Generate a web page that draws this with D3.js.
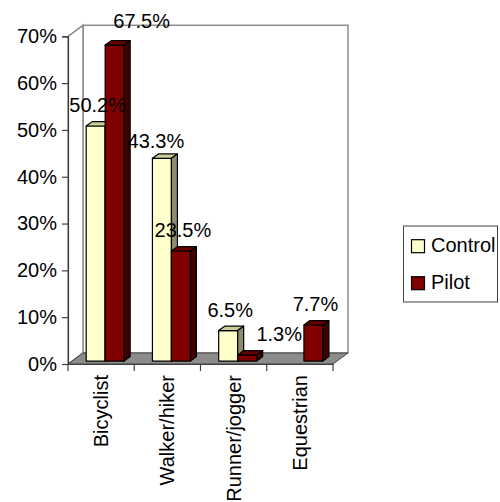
<!DOCTYPE html>
<html>
<head>
<meta charset="utf-8">
<script src="https://cdn.jsdelivr.net/npm/d3@7"></script>
<style>
  html, body { margin: 0; padding: 0; background: #fff; }
  svg { display: block; font-family: "Liberation Sans", Arial, sans-serif; }
</style>
</head>
<body>
<svg id="chart" width="500" height="502"></svg>
<script>
// Share of trail users by activity
const categories = ["Bicyclist", "Walker/hiker", "Runner/jogger", "Equestrian"];
const seriesNames = ["Control", "Pilot"];
const controlValues = [50.2, 43.3, 6.5, null];
const pilotValues = [67.5, 23.5, 1.3, 7.7];
const yTicks = [0, 10, 20, 30, 40, 50, 60, 70];

// hand-placed data label nudges (px), keyed by category|series
const labelNudge = {
  "Bicyclist|Pilot": [25, -3],
  "Walker/hiker|Control": [-8, 4],
  "Runner/jogger|Pilot": [30, 0]
};

const colors = {
  Control: { front: "#FFFFCC", top: "#CCCC99", side: "#8C8C70" },
  Pilot:   { front: "#800000", top: "#660000", side: "#400000" }
};

const svg = d3.select("#chart");
const fontSize = 20;

// front plane of the plot box and the depth vector of the 3-D box
const plot = { left: 68, right: 333, bottom: 364, top: 36.3 };
const depth = { dx: 15, dy: -11 };
const barDepth = { front: 0.27, back: 0.67 };

const x = d3.scaleBand().domain(categories).range([plot.left, plot.right]);
const y = d3.scaleLinear().domain([0, 70]).range([plot.bottom, plot.top]);
const barW = 19;

const off = t => [depth.dx * t, depth.dy * t];
const poly = pts => pts.map(p => p.join(",")).join(" ");

// ---- walls and floor ----
const g = svg.append("g");
const [bx, by] = off(1);

// back wall
g.append("rect")
  .attr("x", plot.left + bx).attr("y", plot.top + by)
  .attr("width", plot.right - plot.left).attr("height", plot.bottom - plot.top)
  .attr("fill", "#fff").attr("stroke", "#8c8c8c").attr("stroke-width", 1.5);

// side wall
g.append("polygon")
  .attr("points", poly([[plot.left, plot.top], [plot.left + bx, plot.top + by],
                        [plot.left + bx, plot.bottom + by], [plot.left, plot.bottom]]))
  .attr("fill", "#fff").attr("stroke", "#8c8c8c").attr("stroke-width", 1.5);

// floor
g.append("polygon")
  .attr("points", poly([[plot.left, plot.bottom], [plot.right, plot.bottom],
                        [plot.right + bx, plot.bottom + by], [plot.left + bx, plot.bottom + by]]))
  .attr("fill", "#8c8c8c").attr("stroke", "#404040").attr("stroke-width", 1);

// ---- bars ----
const bars = [];
categories.forEach((c, i) => {
  [controlValues[i], pilotValues[i]].forEach((v, s) => {
    if (v == null) return;
    bars.push({ cat: c, series: seriesNames[s], value: v, s });
  });
});

const [fdx, fdy] = off(barDepth.front);
const [kdx, kdy] = off(barDepth.back);
const sdx = kdx - fdx, sdy = kdy - fdy;

const barG = svg.append("g");
bars.forEach(b => {
  const x0 = x(b.cat) + x.bandwidth() / 2 - barW + b.s * barW + fdx;
  const x1 = x0 + barW;
  const yb = y(0) + fdy;
  const yt = y(b.value) + fdy;
  const col = colors[b.series];
  const bg = barG.append("g").attr("stroke", "#000").attr("stroke-width", 1.2)
    .attr("stroke-linejoin", "round");
  bg.append("polygon").attr("fill", col.front)
    .attr("points", poly([[x0, yt], [x1, yt], [x1, yb], [x0, yb]]));
  bg.append("polygon").attr("fill", col.top)
    .attr("points", poly([[x0, yt], [x1, yt], [x1 + sdx, yt + sdy], [x0 + sdx, yt + sdy]]));
  bg.append("polygon").attr("fill", col.side)
    .attr("points", poly([[x1, yt], [x1 + sdx, yt + sdy], [x1 + sdx, yb + sdy], [x1, yb]]));
  b.cx = (x0 + x1) / 2;
  b.ty = yt;
});

// ---- axes ----
const yAxis = d3.axisLeft(y).tickValues(yTicks).tickFormat(d => d + "%")
  .tickSize(6).tickPadding(5);
const yg = svg.append("g").attr("transform", `translate(${plot.left},0)`).call(yAxis);
yg.select(".domain").attr("stroke", "#404040").attr("stroke-width", 1.2);
yg.selectAll(".tick line").attr("stroke", "#404040").attr("stroke-width", 1.2);
yg.selectAll(".tick text").attr("font-size", fontSize).attr("fill", "#000")
  .attr("font-family", "Liberation Sans, Arial, sans-serif");

const xAxis = d3.axisBottom(x).tickSize(0).tickFormat("");
const xg = svg.append("g").attr("transform", `translate(0,${plot.bottom})`).call(xAxis);
xg.select(".domain").attr("stroke", "#404040").attr("stroke-width", 1.2);

// category boundary ticks
const bounds = categories.map(c => x(c)).concat([plot.right]);
svg.append("g").selectAll("line").data(bounds).join("line")
  .attr("x1", d => d).attr("x2", d => d)
  .attr("y1", plot.bottom).attr("y2", plot.bottom + 7)
  .attr("stroke", "#404040").attr("stroke-width", 1.2);

// rotated category labels
svg.append("g").selectAll("text").data(categories).join("text")
  .attr("transform", d => `translate(${x(d) + x.bandwidth() / 2},${plot.bottom + 11}) rotate(-90)`)
  .attr("text-anchor", "end").attr("dy", "0.35em")
  .attr("font-size", fontSize).attr("fill", "#000")
  .text(d => d);

// ---- value labels ----
svg.append("g").selectAll("text").data(bars).join("text")
  .attr("x", d => d.cx + 2 + ((labelNudge[d.cat + "|" + d.series] || [0, 0])[0]))
  .attr("y", d => d.ty - 14 + ((labelNudge[d.cat + "|" + d.series] || [0, 0])[1]))
  .attr("text-anchor", "middle")
  .attr("font-size", fontSize).attr("fill", "#000")
  .text(d => d.value.toFixed(1) + "%");

// ---- legend ----
const lg = svg.append("g");
lg.append("rect").attr("x", 403.5).attr("y", 226).attr("width", 94).attr("height", 76)
  .attr("fill", "#fff").attr("stroke", "#404040").attr("stroke-width", 1);
seriesNames.forEach((name, i) => {
  const yy = 251.7 + i * 37;
  lg.append("rect").attr("x", 411.5).attr("y", yy - 12).attr("width", 13).attr("height", 13)
    .attr("fill", colors[name].front).attr("stroke", "#000").attr("stroke-width", 1.2);
  lg.append("text").attr("x", 431).attr("y", yy)
    .attr("font-size", fontSize).attr("fill", "#000").text(name);
});
</script>
</body>
</html>
